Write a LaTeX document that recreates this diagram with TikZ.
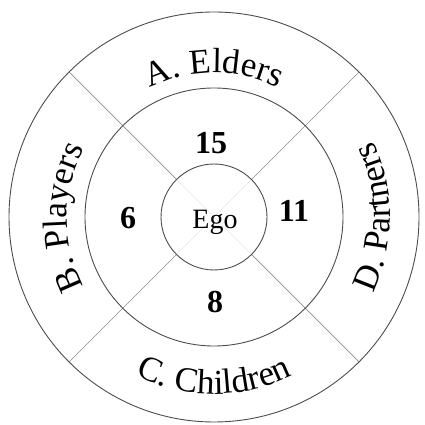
\documentclass[tikz,border=0pt]{standalone}
\usepackage{fontspec}
\setmainfont{Liberation Serif}
\usetikzlibrary{decorations.text,calc}
\newcommand{\ringfont}{\fontsize{35}{35}\selectfont}
\tikzset{
  ring/.style={draw=black!70, line width=0.9pt},
  divider/.style={draw=black!45, line width=0.7pt},
  faint/.style={draw=black!10, line width=0.6pt},
  num/.style={font=\fontsize{32}{32}\selectfont\bfseries, inner sep=0pt},
  egolabel/.style={font=\fontsize{28}{28}\selectfont, inner sep=0pt, anchor=base},
  arclabel/.style={decorate, decoration={text along path, text align=center, text={|\ringfont|#1}}}
}
\begin{document}
\begin{tikzpicture}[x=1pt,y=1pt]
\useasboundingbox (0,0) rectangle (424,425);
\coordinate (C) at (214,208);
% dividers
\foreach \a in {45,135,225,315} {
  \draw[faint] (C) -- ++(\a:53);
  \draw[divider] ($(C)+(\a:53)$) -- ($(C)+(\a:205)$);
}
% circles
\draw[ring] (C) circle[radius=205];
\draw[ring] (C) circle[radius=129];
\draw[ring] (C) circle[radius=53];
% ring labels
\path[arclabel={A. Elders}] ($(C)+(150:144)$) arc[start angle=150, end angle=30, radius=144];
\path[arclabel={B. Players}] ($(C)+(240:147)$) arc[start angle=240, end angle=120, radius=147];
\path[arclabel={D. Partners}] ($(C)+(-60:176)$) arc[start angle=-60, end angle=60, radius=176];
\path[arclabel={C. Children}] ($(C)+(215:177)$) arc[start angle=215, end angle=325, radius=177];
% numbers
\node[num] (n15) at (211,282) {15};
\node[num] (n6) at (128,207) {6};
\node[num] (n11) at (294,214) {11};
\node[num] (n8) at (215,123) {8};
\node[egolabel] (ego) at (215,196) {Ego};
\end{tikzpicture}
\end{document}
